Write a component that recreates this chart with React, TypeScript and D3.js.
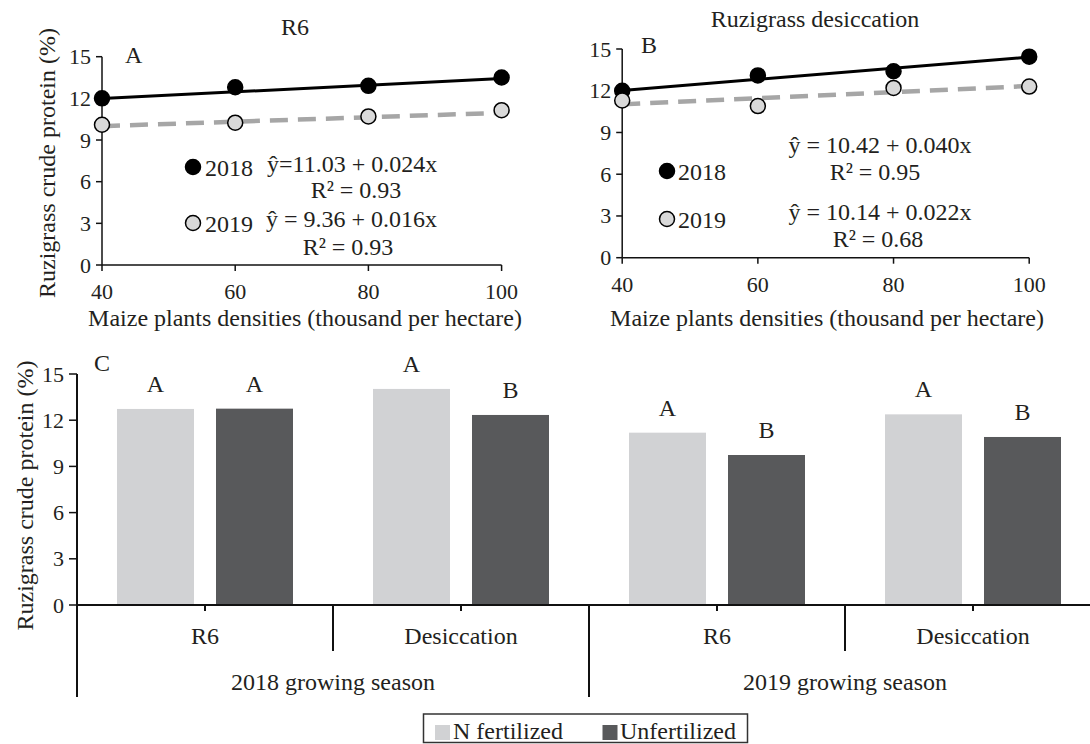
import React from 'react';
import * as d3 from 'd3';

// ---------- data ----------
const densities = [40, 60, 80, 100];
const r6Protein2018 = [12.0, 12.8, 12.9, 13.5];
const r6Protein2019 = [10.1, 10.25, 10.7, 11.15];
const desProtein2018 = [12.0, 13.1, 13.4, 14.45];
const desProtein2019 = [11.3, 10.9, 12.2, 12.3];
const r6Fit2018 = [11.03, 0.024];
const r6Fit2019 = [9.36, 0.016];
const desFit2018 = [10.42, 0.04];
const desFit2019 = [10.14, 0.022];
const r6Equations = ['ŷ=11.03 + 0.024x', 'R² = 0.93', 'ŷ = 9.36 + 0.016x', 'R² = 0.93'];
const desEquations = ['ŷ = 10.42 + 0.040x', 'R² = 0.95', 'ŷ = 10.14 + 0.022x', 'R² = 0.68'];
const years = ['2018', '2019'];
const yTicks = [0, 3, 6, 9, 12, 15];

const stages = ['R6', 'Desiccation', 'R6', 'Desiccation'];
const seasons = ['2018 growing season', '2019 growing season'];
const nFertilized = [12.73, 14.03, 11.19, 12.38];
const unfertilized = [12.75, 12.34, 9.74, 10.91];
const nFertLetters = ['A', 'A', 'A', 'A'];
const unfertLetters = ['A', 'B', 'B', 'B'];
const treatments = ['N fertilized', 'Unfertilized'];

// ---------- style ----------
const FONT = "'Liberation Serif', 'Times New Roman', serif";
const TXT = '#231F20';
const LIGHT = '#D1D2D4';
const DARK = '#58595B';
const FS = 24;
const TFS = 22;
const AX = 1.5;

type PanelProps = {
  xr: [number, number];
  yr: [number, number];
  y2018: number[];
  y2019: number[];
  fit2018: number[];
  fit2019: number[];
  title: string;
  titlePos: [number, number];
  letter: string;
  letterPos: [number, number];
  legendPos: [number, number][];
  legendTextX: number;
  eqs: string[];
  eqPos: [number, number, string][];
  xTitleX: number;
};

function ScatterPanel(p: PanelProps) {
  const x = d3.scaleLinear().domain([40, 100]).range(p.xr);
  const y = d3.scaleLinear().domain([0, 15]).range(p.yr);
  const fitLine = (f: number[]) =>
    d3.line<number>().x((d) => x(d)).y((d) => y(f[0] + f[1] * d))([40, 100]) as string;
  return (
    <g>
      <text x={p.titlePos[0]} y={p.titlePos[1]} textAnchor="middle" fontSize={FS} fill={TXT}>{p.title}</text>
      <text x={p.letterPos[0]} y={p.letterPos[1]} fontSize={FS} fill={TXT}>{p.letter}</text>
      {/* axes */}
      <line x1={x(40)} x2={x(100)} y1={y(0)} y2={y(0)} stroke="#111" strokeWidth={AX} />
      <line x1={x(40)} x2={x(40)} y1={y(0)} y2={y(15)} stroke="#111" strokeWidth={AX} />
      {yTicks.map((t) => (
        <g key={'y' + t}>
          <line x1={x(40) - 6} x2={x(40)} y1={y(t)} y2={y(t)} stroke="#111" strokeWidth={AX} />
          <text x={x(40) - 11} y={y(t) + 7.5} textAnchor="end" fontSize={TFS} fill={TXT}>{t}</text>
        </g>
      ))}
      {densities.map((d) => (
        <g key={'x' + d}>
          <line x1={x(d)} x2={x(d)} y1={y(0)} y2={y(0) + 6} stroke="#111" strokeWidth={AX} />
          <text x={x(d)} y={y(0) + 34} textAnchor="middle" fontSize={TFS} fill={TXT}>{d}</text>
        </g>
      ))}
      <text x={p.xTitleX} y={326} textAnchor="middle" fontSize={FS} fill={TXT}>
        Maize plants densities (thousand per hectare)
      </text>
      {/* fits */}
      <path d={fitLine(p.fit2018)} stroke="#000" strokeWidth={3} fill="none" />
      <path d={fitLine(p.fit2019)} stroke="#A6A6A6" strokeWidth={4.5} strokeDasharray="18 10" fill="none" />
      {/* points */}
      {densities.map((d, i) => (
        <circle key={'a' + d} cx={x(d)} cy={y(p.y2018[i])} r={7.5} fill="#000" stroke="#000" strokeWidth={1.5} />
      ))}
      {densities.map((d, i) => (
        <circle key={'b' + d} cx={x(d)} cy={y(p.y2019[i])} r={7.5} fill="#D9D9D9" stroke="#000" strokeWidth={1.5} />
      ))}
      {/* legend */}
      {years.map((yr, i) => (
        <g key={yr}>
          <circle cx={p.legendPos[i][0]} cy={p.legendPos[i][1]} r={7.5} fill={i === 0 ? '#000' : '#D9D9D9'} stroke="#000" strokeWidth={1.5} />
          <text x={p.legendTextX} y={p.legendPos[i][1] + 8.5} fontSize={FS} fill={TXT}>{yr}</text>
        </g>
      ))}
      {p.eqs.map((e, i) => (
        <text key={'e' + i} x={p.eqPos[i][0]} y={p.eqPos[i][1]} textAnchor={p.eqPos[i][2] as any} fontSize={FS} fill={TXT}>{e}</text>
      ))}
    </g>
  );
}

function BarPanel() {
  const xBand = d3.scaleBand<number>().domain([0, 1, 2, 3]).range([77, 1101]).padding(0);
  const bw = xBand.bandwidth();
  const xSub = d3.scaleBand<number>().domain([0, 1]).range([bw * (40 / 256), bw * (216 / 256)]).paddingInner(22 / 99).paddingOuter(0);
  const y = d3.scaleLinear().domain([0, 15]).range([605, 374]);
  const x0 = 77;
  const series = [nFertilized, unfertilized];
  const letters = [nFertLetters, unfertLetters];
  const colors = [LIGHT, DARK];
  return (
    <g>
      <text x={94} y={371} fontSize={FS} fill={TXT}>C</text>
      {series.map((s, si) =>
        s.map((v, i) => (
          <g key={si + '-' + i}>
            <rect x={(xBand(i) as number) + (xSub(si) as number)} y={y(v)} width={xSub.bandwidth()} height={y(0) - y(v)} fill={colors[si]} />
            <text x={(xBand(i) as number) + (xSub(si) as number) + xSub.bandwidth() / 2} y={y(v) - 17} textAnchor="middle" fontSize={FS} fill={TXT}>
              {letters[si][i]}
            </text>
          </g>
        ))
      )}
      {/* axes */}
      <line x1={x0} x2={1101} y1={y(0)} y2={y(0)} stroke="#111" strokeWidth={2} />
      <line x1={x0} x2={x0} y1={697} y2={y(15)} stroke="#111" strokeWidth={2} />
      {yTicks.map((t) => (
        <g key={'cy' + t}>
          <line x1={x0 - 8} x2={x0} y1={y(t)} y2={y(t)} stroke="#111" strokeWidth={AX} />
          <text x={x0 - 13} y={y(t) + 7.5} textAnchor="end" fontSize={TFS} fill={TXT}>{t}</text>
        </g>
      ))}
      {stages.map((s, i) => {
        const c = (xBand(i) as number) + bw / 2;
        const right = (xBand(i) as number) + bw;
        return (
          <g key={'st' + i}>
            <line x1={c} x2={c} y1={y(0)} y2={y(0) + 6} stroke="#111" strokeWidth={2} />
            <text x={c} y={644} textAnchor="middle" fontSize={FS} fill={TXT}>{s}</text>
            {i < 3 && (
              <line x1={right} x2={right} y1={y(0)} y2={i === 1 ? 697 : 651} stroke="#111" strokeWidth={2} />
            )}
          </g>
        );
      })}
      {seasons.map((s, i) => {
        const c = ((xBand(i * 2) as number) + (xBand(i * 2 + 1) as number) + bw) / 2;
        return (
          <text key={s} x={c} y={690} textAnchor="middle" fontSize={FS} fill={TXT}>{s}</text>
        );
      })}
      <text transform={`translate(33,${495.5}) rotate(-90)`} textAnchor="middle" fontSize={FS} fill={TXT}>
        Ruzigrass crude protein (%)
      </text>
      {/* legend */}
      <rect x={423.5} y={714} width={324} height={28.5} fill="#fff" stroke="#333" strokeWidth={1.5} />
      {treatments.map((t, i) => (
        <g key={t}>
          <rect x={i === 0 ? 435 : 602.5} y={725} width={15} height={15} fill={colors[i]} />
          <text x={i === 0 ? 453 : 620} y={739} fontSize={FS} fill={TXT}>{t}</text>
        </g>
      ))}
    </g>
  );
}

export default function App() {
  return (
    <svg width={1090} height={744} style={{ position: 'absolute', left: 0, top: 0, background: '#fff' }} fontFamily={FONT}>
      <rect x={0} y={0} width={1090} height={744} fill="#fff" />
      <text transform={`translate(55,163) rotate(-90)`} textAnchor="middle" fontSize={FS} fill={TXT}>
        Ruzigrass crude protein (%)
      </text>
      <ScatterPanel
        xr={[102, 501.6]}
        yr={[265, 56.7]}
        y2018={r6Protein2018}
        y2019={r6Protein2019}
        fit2018={r6Fit2018}
        fit2019={r6Fit2019}
        title="R6"
        titlePos={[295, 35]}
        letter="A"
        letterPos={[125, 63]}
        legendPos={[[193, 167], [193, 223]]}
        legendTextX={205}
        eqs={r6Equations}
        eqPos={[[267, 172, 'start'], [356, 198, 'middle'], [266, 227, 'start'], [348, 255, 'middle']]}
        xTitleX={305}
      />
      <ScatterPanel
        xr={[622.2, 1029.2]}
        yr={[257.7, 49]}
        y2018={desProtein2018}
        y2019={desProtein2019}
        fit2018={desFit2018}
        fit2019={desFit2019}
        title="Ruzigrass desiccation"
        titlePos={[815, 27]}
        letter="B"
        letterPos={[641, 53]}
        legendPos={[[667, 171], [667, 219]]}
        legendTextX={678}
        eqs={desEquations}
        eqPos={[[880, 153, 'middle'], [875, 180, 'middle'], [880, 220, 'middle'], [878, 247, 'middle']]}
        xTitleX={827}
      />
      <BarPanel />
    </svg>
  );
}
